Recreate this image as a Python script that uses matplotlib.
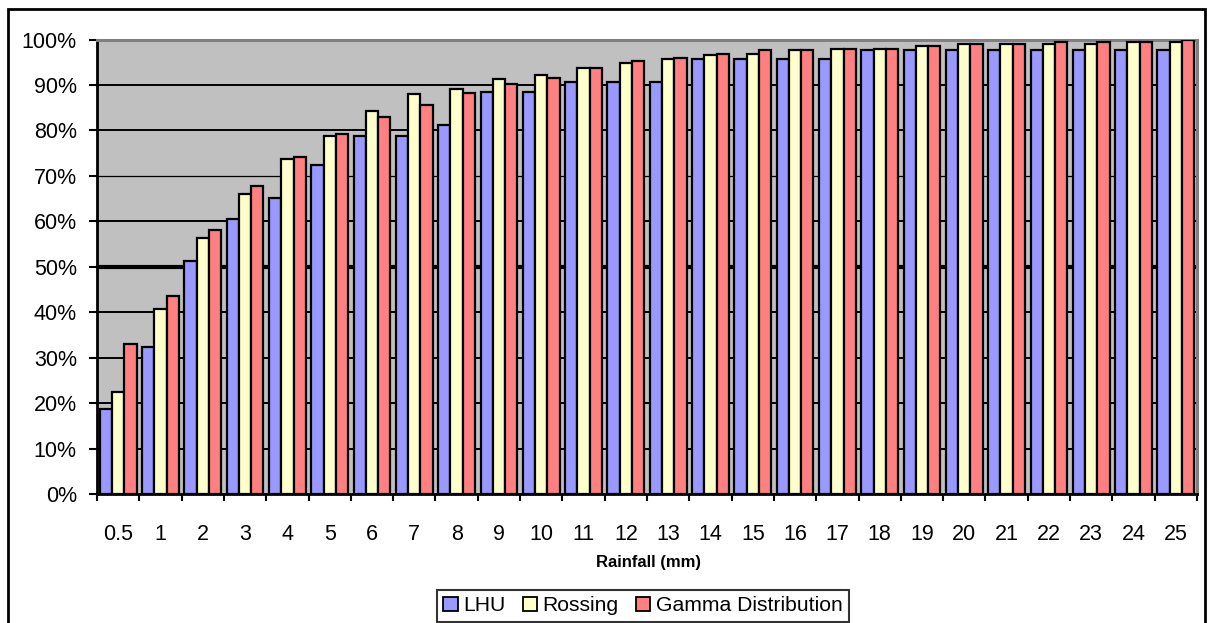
import matplotlib
matplotlib.use("Agg")
import matplotlib.pyplot as plt
from matplotlib.patches import Rectangle
import numpy as np

plt.rcParams['font.family'] = ['Liberation Sans', 'DejaVu Sans']

categories = ["0.5", "1", "2", "3", "4", "5", "6", "7", "8", "9", "10", "11", "12",
              "13", "14", "15", "16", "17", "18", "19", "20", "21", "22", "23", "24", "25"]
lhu = [18.8, 32.4, 51.3, 60.4, 65.2, 72.4, 78.8, 78.8, 81.2, 88.5, 88.4, 90.6, 90.6,
       90.6, 95.7, 95.7, 95.7, 95.7, 97.6, 97.6, 97.6, 97.6, 97.6, 97.6, 97.6, 97.6]
rossing = [22.5, 40.8, 56.3, 66.0, 73.7, 78.8, 84.3, 88.0, 89.2, 91.3, 92.2, 93.8, 94.9,
           95.7, 96.5, 96.9, 97.6, 98.0, 98.0, 98.5, 99.0, 99.0, 99.0, 99.0, 99.4, 99.4]
gamma = [33.1, 43.6, 58.1, 67.8, 74.2, 79.2, 83.0, 85.5, 88.3, 90.2, 91.6, 93.8, 95.2,
         96.0, 96.9, 97.6, 97.6, 98.0, 98.0, 98.5, 99.0, 99.0, 99.4, 99.4, 99.4, 99.8]
series_names = ["LHU", "Rossing", "Gamma Distribution"]
series_colors = ["#9999FF", "#FFFFCC", "#FF8080"]

W, H = 1210, 623
fig = plt.figure(figsize=(W / 100, H / 100), dpi=100)
ax = fig.add_axes([97 / W, 1 - 494 / H, (1197 - 97) / W, (494 - 39.5) / H])
ax.set_facecolor("#C0C0C0")

x = np.arange(len(categories))
bw = 0.29
for i, (vals, name, col) in enumerate(zip([lhu, rossing, gamma], series_names, series_colors)):
    ax.bar(x + (i - 1) * bw, vals, width=bw, color=col, edgecolor="black",
           linewidth=1.6, label=name, zorder=3)

for g in range(10, 100, 10):
    lw = 3.0 if g == 50 else (0.9 if g == 70 else 1.4)
    ax.axhline(g, color="black", lw=lw, zorder=1)

ax.set_xlim(-0.5, len(categories) - 0.5)
ax.set_ylim(0, 100)

ax.set_yticks(range(0, 101, 10))
ax.set_yticklabels([f"{v}%" for v in range(0, 101, 10)])
ax.tick_params(axis="y", direction="out", length=6, width=1.5, pad=8.5,
               labelsize=15.5, colors="black")

ax.set_xticks(x)
ax.set_xticklabels(categories)
ax.set_xticks(np.arange(-0.5, len(categories), 1.0), minor=True)
ax.tick_params(axis="x", which="major", length=0, pad=21.5, labelsize=15.5)
ax.tick_params(axis="x", which="minor", direction="out", length=5, width=1.5)

for s in ["left", "bottom"]:
    ax.spines[s].set_color("black")
    ax.spines[s].set_linewidth(2)
for s in ["top", "right"]:
    ax.spines[s].set_color("#808080")
    ax.spines[s].set_linewidth(2.2)

fig.text(648 / W, 1 - 563 / H, "Rainfall (mm)", ha="center", va="center",
         fontsize=12, fontweight="bold")

leg = fig.legend(loc="upper left", bbox_to_anchor=(437 / W, 1 - 590 / H), ncol=3,
                 fontsize=15.2, frameon=True, fancybox=False, handlelength=0.7,
                 handleheight=0.7, handletextpad=0.25, columnspacing=0.8,
                 borderpad=0.3, borderaxespad=0)
leg.get_frame().set_edgecolor("black")
leg.get_frame().set_linewidth(1.5)
for p in leg.get_patches():
    p.set_edgecolor("black")
    p.set_linewidth(1.3)

fig.patches.append(Rectangle((8 / W, -0.1), (1205 - 8) / W, (1 - 9 / H) + 0.1,
                             transform=fig.transFigure, fill=False,
                             edgecolor="black", linewidth=2, zorder=0))

fig.savefig("out.png", dpi=100, facecolor="white")
